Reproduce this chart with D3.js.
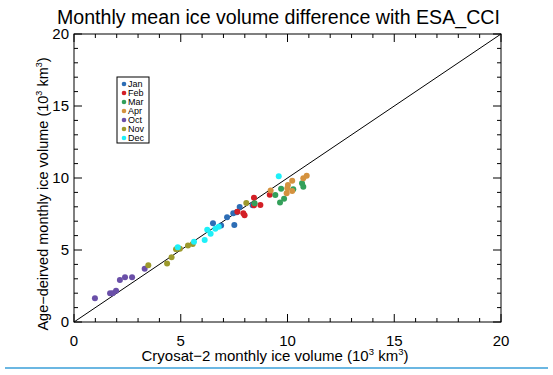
<!DOCTYPE html>
<html>
<head>
<meta charset="utf-8">
<script src="https://cdn.jsdelivr.net/npm/d3@7"></script>
<style>
  body { margin: 0; background: #fff; }
  text { font-family: "Liberation Sans", Arial, sans-serif; fill: #000; }
</style>
</head>
<body>
<div id="chart"></div>
<script>
/* month names and colours (legend order) */
var months = ["Jan", "Feb", "Mar", "Apr", "Oct", "Nov", "Dec"];
var monthColors = ["#2d6db5", "#d31f26", "#33a05a", "#d4923f", "#6a4fa8", "#9d9a2c", "#1ef0f8"];

/* Cryosat-2 volume (x) and age-derived volume (y), 10^3 km^3 */
var janX = [6.51, 6.89, 7.17, 7.46, 7.62, 7.51, 7.76, 8.37];
var janY = [6.85, 6.71, 7.27, 7.55, 7.62, 6.74, 7.99, 8.10];
var febX = [7.65, 7.93, 7.99, 8.43, 8.43, 8.73, 9.17];
var febY = [7.66, 7.55, 7.41, 8.63, 8.10, 8.13, 8.84];
var marX = [8.46, 9.43, 9.70, 9.65, 9.84, 10.27, 10.68, 10.74];
var marY = [8.24, 8.82, 9.26, 8.29, 8.56, 9.22, 9.63, 9.40];
var aprX = [9.21, 9.96, 9.99, 10.02, 10.22, 10.22, 10.74, 10.90];
var aprY = [9.14, 8.94, 9.28, 9.51, 9.10, 9.81, 9.98, 10.16];
var octX = [0.98, 1.69, 1.81, 1.97, 2.15, 2.39, 2.72, 3.31];
var octY = [1.65, 1.99, 1.99, 2.17, 2.92, 3.10, 3.10, 3.70];
var novX = [3.48, 4.36, 4.57, 4.78, 4.96, 5.34, 5.56, 8.07];
var novY = [3.94, 4.07, 4.49, 5.05, 5.09, 5.32, 5.42, 8.26];
var decX = [4.86, 5.62, 6.12, 6.24, 6.40, 6.62, 6.78, 9.59];
var decY = [5.19, 5.58, 5.69, 6.41, 6.13, 6.48, 6.62, 10.12];

var seriesX = [janX, febX, marX, aprX, octX, novX, decX];
var seriesY = [janY, febY, marY, aprY, octY, novY, decY];

var majorTicks = [0, 5, 10, 15, 20];
var axisMax = 20;

/* size of the graphic and plot box */
var width = 553, height = 375;
var pLeft = 74, pRight = 501, pTop = 34, pBottom = 322;

var svg = d3.select("#chart").append("svg")
	.attr("width", width)
	.attr("height", height);

var x = d3.scaleLinear().domain([0, axisMax]).range([pLeft, pRight]);
var y = d3.scaleLinear().domain([0, axisMax]).range([pBottom, pTop]);

var minorTicks = d3.range(0, axisMax + 1, 1);

/* frame */
svg.append("rect")
	.attr("x", pLeft).attr("y", pTop)
	.attr("width", pRight - pLeft).attr("height", pBottom - pTop)
	.attr("fill", "none").attr("stroke", "#000").attr("stroke-width", 1);

/* ticks pointing inward on all sides */
function tickLen(v) { return majorTicks.indexOf(v) >= 0 ? 8 : 4; }
var tk = svg.append("g").attr("stroke", "#000").attr("stroke-width", 1);
minorTicks.forEach(function(v) {
	var L = tickLen(v);
	tk.append("line").attr("x1", x(v)).attr("x2", x(v)).attr("y1", pBottom).attr("y2", pBottom - L);
	tk.append("line").attr("x1", x(v)).attr("x2", x(v)).attr("y1", pTop).attr("y2", pTop + L);
	tk.append("line").attr("y1", y(v)).attr("y2", y(v)).attr("x1", pLeft).attr("x2", pLeft + L);
	tk.append("line").attr("y1", y(v)).attr("y2", y(v)).attr("x1", pRight).attr("x2", pRight - L);
});

/* tick labels */
svg.selectAll(".xl").data(majorTicks).enter().append("text")
	.attr("x", function(d) { return x(d); })
	.attr("y", pBottom + 24)
	.attr("text-anchor", "middle")
	.style("font-size", "15px")
	.text(function(d) { return d; });

svg.selectAll(".yl").data(majorTicks).enter().append("text")
	.attr("x", pLeft - 5)
	.attr("y", function(d) { return y(d) + 5; })
	.attr("text-anchor", "end")
	.style("font-size", "15px")
	.text(function(d) { return d; });

/* 1:1 line */
svg.append("line")
	.attr("x1", x(0)).attr("y1", y(0))
	.attr("x2", x(axisMax)).attr("y2", y(axisMax))
	.attr("stroke", "#000").attr("stroke-width", 1);

/* points */
seriesX.forEach(function(xs, k) {
	xs.forEach(function(v, i) {
		svg.append("circle")
			.attr("cx", x(v))
			.attr("cy", y(seriesY[k][i]))
			.attr("r", 3)
			.attr("fill", monthColors[k]);
	});
});

/* legend */
var lg = svg.append("g");
lg.append("rect")
	.attr("x", 117).attr("y", 77).attr("width", 32).attr("height", 66)
	.attr("fill", "#fff").attr("stroke", "#000").attr("stroke-width", 1);
months.forEach(function(m, i) {
	lg.append("circle").attr("cx", 124).attr("cy", 84 + i * 9).attr("r", 2.3).attr("fill", monthColors[i]);
	lg.append("text").attr("x", 128).attr("y", 87.3 + i * 9)
		.style("font-size", "9px").text(m);
});

/* title */
svg.append("text")
	.attr("x", 57).attr("y", 24)
	.style("font-size", "19.6px")
	.text("Monthly mean ice volume difference with ESA_CCI");

/* x label */
var xt = svg.append("text")
	.attr("x", 275).attr("y", 361)
	.attr("text-anchor", "middle")
	.style("font-size", "15px");
xt.append("tspan").text("Cryosat\u22122 monthly ice volume (10");
xt.append("tspan").attr("dy", -6).style("font-size", "9.5px").text("3");
xt.append("tspan").attr("dy", 6).text(" km");
xt.append("tspan").attr("dy", -6).style("font-size", "9.5px").text("3");
xt.append("tspan").attr("dy", 6).text(")");

/* y label */
var yt = svg.append("text")
	.attr("transform", "translate(48," + 194 + ") rotate(-90)")
	.attr("text-anchor", "middle")
	.style("font-size", "14.5px");
yt.append("tspan").text("Age\u2212deirved monthly ice volume (10");
yt.append("tspan").attr("dy", -6).style("font-size", "9px").text("3");
yt.append("tspan").attr("dy", 6).text(" km");
yt.append("tspan").attr("dy", -6).style("font-size", "9px").text("3");
yt.append("tspan").attr("dy", 6).text(")");

/* bottom rule */
svg.append("line")
	.attr("x1", 5).attr("x2", 548).attr("y1", 368).attr("y2", 368)
	.attr("stroke", "#3a9fd9").attr("stroke-width", 1.5);
</script>
</body>
</html>
